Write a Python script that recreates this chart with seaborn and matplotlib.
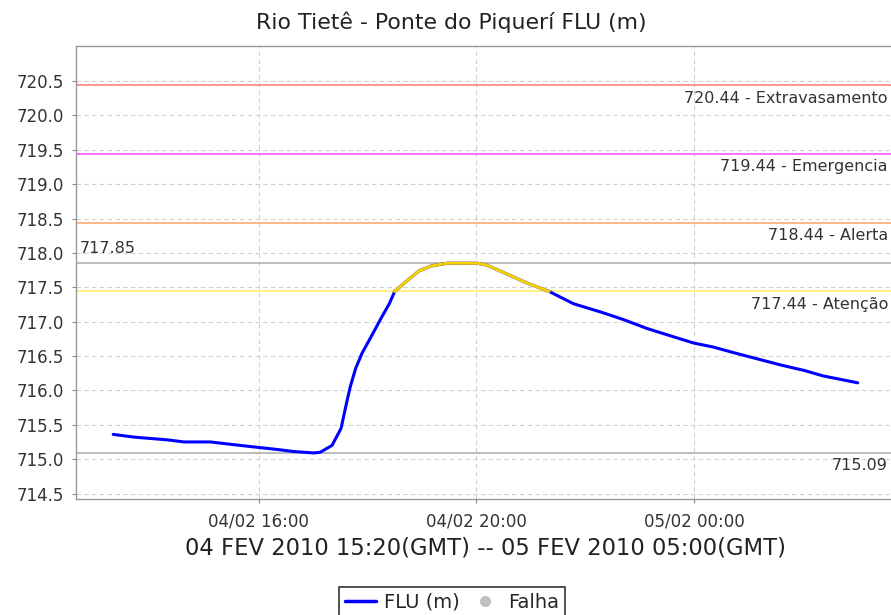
import pandas as pd
import numpy as np
import matplotlib
matplotlib.use("Agg")
import matplotlib.pyplot as plt
import matplotlib.dates as mdates
from matplotlib.lines import Line2D
import seaborn as sns

# readings (local time)
times = [
    "2010-02-04 13:20", "2010-02-04 13:43", "2010-02-04 14:20", "2010-02-04 14:38",
    "2010-02-04 15:07", "2010-02-04 15:33", "2010-02-04 16:00", "2010-02-04 16:21",
    "2010-02-04 16:39", "2010-02-04 17:01", "2010-02-04 17:08", "2010-02-04 17:21",
    "2010-02-04 17:31", "2010-02-04 17:36", "2010-02-04 17:41", "2010-02-04 17:47",
    "2010-02-04 17:54", "2010-02-04 18:04", "2010-02-04 18:15", "2010-02-04 18:24",
    "2010-02-04 18:30", "2010-02-04 18:44", "2010-02-04 18:57", "2010-02-04 19:10",
    "2010-02-04 19:28", "2010-02-04 20:01", "2010-02-04 20:12", "2010-02-04 20:34",
    "2010-02-04 20:56", "2010-02-04 21:20", "2010-02-04 21:47", "2010-02-04 22:17",
    "2010-02-04 22:42", "2010-02-04 23:08", "2010-02-04 23:37", "2010-02-04 23:59",
    "2010-02-05 00:21", "2010-02-05 00:43", "2010-02-05 01:09", "2010-02-05 01:35",
    "2010-02-05 02:01", "2010-02-05 02:22", "2010-02-05 02:41", "2010-02-05 03:00",
]
flu = [
    715.36, 715.32, 715.28, 715.25,
    715.25, 715.21, 715.17, 715.14,
    715.11, 715.09, 715.10, 715.20,
    715.45, 715.76, 716.05, 716.32,
    716.54, 716.78, 717.05, 717.26,
    717.44, 717.60, 717.74, 717.81,
    717.85, 717.85, 717.82, 717.69,
    717.56, 717.44, 717.26, 717.14,
    717.03, 716.90, 716.78, 716.69,
    716.63, 716.55, 716.46, 716.37,
    716.29, 716.21, 716.16, 716.11,
]

limit_values = [720.44, 719.44, 718.44, 717.44]
limit_names = ["Extravasamento", "Emergencia", "Alerta", "Atenção"]
limit_colors = ["#ff8a8a", "#ff66ff", "#ffb27f", "#fff07a"]
y_ticks = [714.5, 715.0, 715.5, 716.0, 716.5, 717.0, 717.5, 718.0, 718.5, 719.0, 719.5, 720.0, 720.5]

df = pd.DataFrame({"time": pd.to_datetime(times), "flu": flu})
above = df[df.flu >= limit_values[-1]]
max_v = df.flu.max()
min_v = df.flu.min()

sns.set_style("white")
plt.rcParams["font.family"] = ["DejaVu Sans"]

fig = plt.figure(figsize=(8.91, 6.15), dpi=100)
ax = fig.add_axes([76 / 891, 116 / 615, 819 / 891, 453 / 615])

ax.grid(True, color="#d0d0d0", linestyle=(0, (4, 3)), linewidth=0.8)

lab_x = (888 - 76) / 819
for val, name, col in zip(limit_values, limit_names, limit_colors):
    ax.axhline(val, color=col, linewidth=1.3, zorder=2)
    ax.text(lab_x, val - 0.08, f"{val:.2f} - {name}", transform=ax.get_yaxis_transform(),
            ha="right", va="top", fontsize=11.5, color="#333333")

ax.axhline(max_v, color="#b0b0b0", linewidth=1.2, zorder=2)
ax.text(0.005, max_v + 0.1, f"{max_v:.2f}", transform=ax.get_yaxis_transform(),
        ha="left", va="bottom", fontsize=11.5, color="#333333")
ax.axhline(min_v, color="#b0b0b0", linewidth=1.2, zorder=2)
ax.text(lab_x, min_v - 0.08, f"{min_v:.2f}", transform=ax.get_yaxis_transform(),
        ha="right", va="top", fontsize=11.5, color="#333333")

sns.lineplot(data=df, x="time", y="flu", color="#0000ff", linewidth=2.2, ax=ax, zorder=3)
sns.lineplot(data=above, x="time", y="flu", color="#f5d000", linewidth=2.2, ax=ax, zorder=4)

pad = pd.Timedelta(minutes=41)
ax.set_xlim(df.time.iloc[0] - pad, df.time.iloc[-1] + pad)
ax.set_ylim(714.42, 721.01)
ax.set_yticks(y_ticks)
ax.set_yticklabels([f"{v:.1f}" for v in y_ticks])
ax.xaxis.set_major_locator(mdates.HourLocator(byhour=[0, 4, 8, 12, 16, 20]))
ax.xaxis.set_major_formatter(mdates.DateFormatter("%d/%m %H:%M"))

ax.tick_params(axis="both", labelsize=12, colors="#333333", length=3, color="#888888",
               direction="out", left=True, bottom=True)
ax.tick_params(axis="y", pad=6)
ax.tick_params(axis="x", pad=7)
for s in ax.spines.values():
    s.set_color("#999999")
    s.set_linewidth(1.0)

ax.set_ylabel("")
ax.set_xlabel("04 FEV 2010 15:20(GMT) -- 05 FEV 2010 05:00(GMT)", fontsize=16.3,
              color="#222222", labelpad=4)
fig.text(0.507, 1 - 22 / 615, "Rio Tietê - Ponte do Piquerí FLU (m)", ha="center",
         va="center", fontsize=15.8, color="#222222")

handles = [
    Line2D([], [], color="#0000ff", linewidth=2.5),
    Line2D([], [], color="#c0c0c0", marker="o", linestyle="none", markersize=7),
]
leg = fig.legend(handles, ["FLU (m)", "Falha"], loc="upper center",
                 bbox_to_anchor=(0.507, 1 - 577 / 615), ncol=2, fontsize=14,
                 frameon=True, fancybox=False, handlelength=1.6, handletextpad=0.4,
                 columnspacing=0.5, borderpad=0.3)
leg.get_frame().set_edgecolor("#000000")
leg.get_frame().set_linewidth(1.2)

fig.savefig("out.png", dpi=100)
